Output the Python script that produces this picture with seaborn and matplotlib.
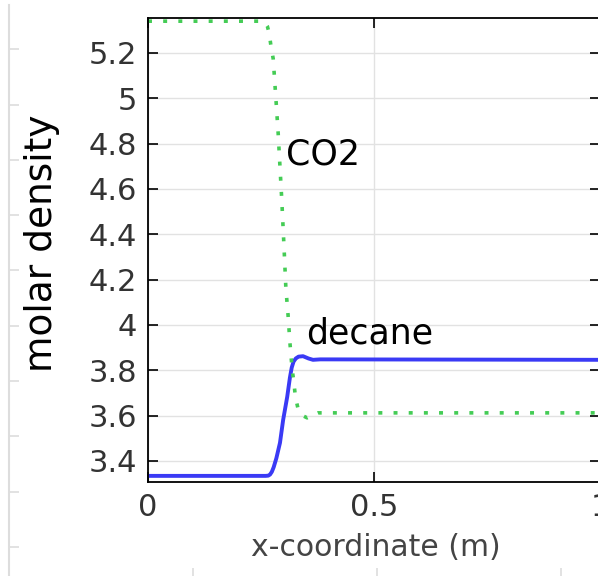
import seaborn as sns
import pandas as pd
import matplotlib.pyplot as plt
from matplotlib.ticker import MultipleLocator

sns.set_theme(style="white")
plt.rcParams['font.family'] = ['DejaVu Sans']

# profiles
co2_x = [0.0, 0.25, 0.258, 0.264, 0.268, 0.272, 0.277, 0.283, 0.288, 0.292,
         0.296, 0.301, 0.305, 0.310, 0.314, 0.319, 0.323, 0.326, 0.332,
         0.342, 0.352, 0.364, 0.376, 0.40, 1.0]
co2_y = [5.340, 5.340, 5.336, 5.318, 5.288, 5.231, 5.174, 4.997, 4.845,
         4.697, 4.550, 4.340, 4.163, 4.040, 3.921, 3.802, 3.744, 3.683,
         3.630, 3.600, 3.590, 3.602, 3.612, 3.612, 3.612]

decane_x = [0.0, 0.26, 0.266, 0.270, 0.274, 0.278, 0.284, 0.292, 0.299,
            0.308, 0.314, 0.318, 0.322, 0.327, 0.333, 0.343, 0.355, 0.365,
            0.381, 1.0]
decane_y = [3.334, 3.334, 3.335, 3.340, 3.352, 3.372, 3.412, 3.480, 3.581,
            3.683, 3.768, 3.812, 3.838, 3.852, 3.860, 3.862, 3.852, 3.846,
            3.848, 3.846]

y_ticks = [3.4, 3.6, 3.8, 4.0, 4.2, 4.4, 4.6, 4.8, 5.0, 5.2]
y_labels = ['3.4', '3.6', '3.8', '4', '4.2', '4.4', '4.6', '4.8', '5', '5.2']
x_ticks = [0, 0.5, 1]
x_labels = ['0', '0.5', '1']

co2 = pd.DataFrame({'x': co2_x, 'y': co2_y})
decane = pd.DataFrame({'x': decane_x, 'y': decane_y})

W, H = 598, 576
fig = plt.figure(figsize=(W / 100, H / 100), dpi=100)

# faint frame of the surrounding window
bg = fig.add_axes([9 / W, -2 / H, 1.0, 573 / H])
bg.set_facecolor('none')
bg.set_xlim(0, 3.25)
bg.set_ylim(-0.56, 9.8)
bg.xaxis.set_major_locator(MultipleLocator(1))
bg.yaxis.set_major_locator(MultipleLocator(1))
for s in ['top', 'right', 'bottom']:
    bg.spines[s].set_visible(False)
bg.spines['left'].set_color('#dddddd')
bg.spines['left'].set_linewidth(1.5)
bg.tick_params(direction='in', length=7, width=1.2, color='#dddddd',
               labelleft=False, labelbottom=False, left=True, bottom=True)

ax = fig.add_axes([148 / W, (H - 482) / H, 452 / W, 464 / H])
sns.lineplot(data=decane, x='x', y='y', ax=ax, color='#3a3af5',
             linewidth=2.8, estimator=None, sort=False)
sns.lineplot(data=co2, x='x', y='y', ax=ax, color='#44cc55',
             linewidth=2.6, linestyle=(0, (1.1, 3.1)),
             estimator=None, sort=False)

ax.set_xlim(0, 1)
ax.set_ylim(3.307, 5.354)
ax.set_xticks(x_ticks, x_labels)
ax.set_yticks(y_ticks, y_labels)
ax.grid(True, color='#e2e2e2', linewidth=1)
ax.tick_params(direction='in', length=7, width=1.2, color='black',
               top=True, right=True, left=True, bottom=True,
               labelsize=22, labelcolor='#333333')
ax.tick_params(axis='x', pad=8)
ax.tick_params(axis='y', pad=8)
for s in ['left', 'top', 'bottom']:
    ax.spines[s].set_color('black')
    ax.spines[s].set_linewidth(1.3)
ax.spines['right'].set_color('#cccccc')

ax.set_xlabel('x-coordinate (m)', fontsize=21.5, color='#444444')
ax.set_ylabel('molar density', fontsize=27, color='black')
ax.xaxis.label.set_va('center')
ax.yaxis.label.set_va('center')
ax.xaxis.set_label_coords(0.504, -0.142)
ax.yaxis.set_label_coords(-0.234, 0.515)

ax.text(0.387, 4.75, 'CO2', fontsize=25, color='black', ha='center', va='center')
ax.text(0.491, 3.96, 'decane', fontsize=25, color='black', ha='center', va='center')

fig.savefig('out.png', dpi=100)
